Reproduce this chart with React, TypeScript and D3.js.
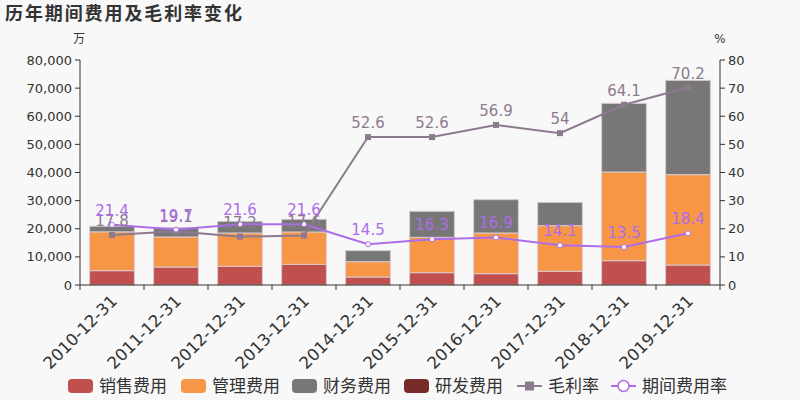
import React from "react";
import * as d3 from "d3";

const categories = ["2010-12-31","2011-12-31","2012-12-31","2013-12-31","2014-12-31","2015-12-31","2016-12-31","2017-12-31","2018-12-31","2019-12-31"];
const salesExp = [5100, 6400, 6640, 7350, 2840, 4380, 4030, 4860, 8650, 7110];
const mgmtExp = [13800, 10700, 11850, 11500, 5460, 12570, 14460, 16240, 31530, 32120];
const finExp = [2000, 3300, 4150, 4500, 3910, 9250, 11850, 8290, 24410, 33540];
const rdExp = [0, 0, 0, 0, 0, 0, 0, 0, 0, 0];
const grossMargin = [17.8, 19.1, 17.2, 17.6, 52.6, 52.6, 56.9, 54, 64.1, 70.2];
const periodRate = [21.4, 19.7, 21.6, 21.6, 14.5, 16.3, 16.9, 14.1, 13.5, 18.4];
const leftTicks = [0, 10000, 20000, 30000, 40000, 50000, 60000, 70000, 80000];
const rightTicks = [0, 10, 20, 30, 40, 50, 60, 70, 80];

const barSeries = [
  { name: "销售费用", values: salesExp, color: "#c0504d" },
  { name: "管理费用", values: mgmtExp, color: "#f79646" },
  { name: "财务费用", values: finExp, color: "#777777" },
  { name: "研发费用", values: rdExp, color: "#772c2a" },
];

const W = 800, H = 400;
const L = 80, R = 720, T = 60, B = 285;
const gmColor = "#8c7b8e";
const prColor = "#ad6de8";
const font = "'DejaVu Sans', 'Noto Sans CJK SC', sans-serif";
const cjk = "'Noto Sans CJK SC', sans-serif";

export default function App() {
  const x = d3.scaleBand<string>().domain(categories).range([L, R]).paddingInner(0.3).paddingOuter(0.15);
  const band = (R - L) / categories.length;
  const yL = d3.scaleLinear().domain([0, 80000]).range([B, T]);
  const yR = d3.scaleLinear().domain([0, 80]).range([B, T]);
  const cx = (c: string) => (x(c) as number) + x.bandwidth() / 2;
  const fmt = d3.format(",");

  const stacks = d3.stack<number>()
    .keys(barSeries.map((_, i) => String(i)))
    .value((idx, key) => barSeries[+key].values[idx])(categories.map((_, i) => i));

  const gmLine = d3.line<number>().x((_, i) => cx(categories[i])).y(v => yR(v));
  const prLine = d3.line<number>().x((_, i) => cx(categories[i])).y(v => yR(v));

  const legendItems = [
    { name: "销售费用", type: "rect", color: barSeries[0].color, x: 68 },
    { name: "管理费用", type: "rect", color: barSeries[1].color, x: 181 },
    { name: "财务费用", type: "rect", color: barSeries[2].color, x: 292 },
    { name: "研发费用", type: "rect", color: barSeries[3].color, x: 404 },
    { name: "毛利率", type: "square", color: gmColor, x: 517 },
    { name: "期间费用率", type: "circle", color: prColor, x: 611 },
  ];

  return (
    <svg width={W} height={H} style={{ display: "block", position: "absolute", left: 0, top: 0, background: "#f8f8f8" }}>
      <rect x={0} y={0} width={W} height={H} fill="#f8f8f8" />
      <text x={5} y={20} fontFamily={cjk} fontSize={18} fontWeight="bold" fill="#333" letterSpacing={1.9}>历年期间费用及毛利率变化</text>
      <text x={79} y={43} fontFamily={cjk} fontSize={12} fill="#333" textAnchor="middle">万</text>
      <text x={720} y={43} fontFamily={font} fontSize={12} fill="#333" textAnchor="middle">%</text>

      {/* bars */}
      {stacks.map((s, si) => (
        <g key={si}>
          {s.map((d, i) => {
            const h = yL(d[0]) - yL(d[1]);
            if (h <= 0) return null;
            return (
              <rect key={i} x={x(categories[i])} y={yL(d[1])} width={x.bandwidth()} height={h}
                fill={barSeries[si].color} stroke="#d9c9cf" strokeWidth={1} />
            );
          })}
        </g>
      ))}

      {/* left axis */}
      <line x1={L} x2={L} y1={T} y2={B} stroke="#333" />
      {leftTicks.map(t => (
        <g key={t}>
          <line x1={L - 5} x2={L} y1={yL(t)} y2={yL(t)} stroke="#333" />
          <text x={L - 8} y={yL(t)} dy="0.35em" textAnchor="end" fontFamily={font} fontSize={13} fill="#333">{fmt(t)}</text>
        </g>
      ))}
      {/* right axis */}
      <line x1={R} x2={R} y1={T} y2={B} stroke="#333" />
      {rightTicks.map(t => (
        <g key={t}>
          <line x1={R} x2={R + 5} y1={yR(t)} y2={yR(t)} stroke="#333" />
          <text x={R + 8} y={yR(t)} dy="0.35em" textAnchor="start" fontFamily={font} fontSize={13} fill="#333">{t}</text>
        </g>
      ))}
      {/* x axis */}
      <line x1={L} x2={R} y1={B} y2={B} stroke="#333" />
      {d3.range(categories.length + 1).map(i => (
        <line key={i} x1={L + i * band} x2={L + i * band} y1={B} y2={B + 5} stroke="#333" />
      ))}
      {categories.map(c => (
        <text key={c} transform={`translate(${cx(c) + 2},${B + 13}) rotate(-45)`} textAnchor="end" dy="0.35em"
          fontFamily={font} fontSize={16.5} fill="#333">{c}</text>
      ))}

      {/* lines */}
      <path d={gmLine(grossMargin) || ""} fill="none" stroke={gmColor} strokeWidth={2} />
      {grossMargin.map((v, i) => (
        <rect key={i} x={cx(categories[i]) - 3} y={yR(v) - 3} width={6} height={6} fill={gmColor} />
      ))}
      <path d={prLine(periodRate) || ""} fill="none" stroke={prColor} strokeWidth={2} />
      {periodRate.map((v, i) => (
        <circle key={i} cx={cx(categories[i])} cy={yR(v)} r={2.5} fill="#fff" stroke={prColor} strokeWidth={1} />
      ))}
      {grossMargin.map((v, i) => (
        <text key={i} x={cx(categories[i])} y={yR(v) - 9} textAnchor="middle" fontFamily={font} fontSize={15} fill={gmColor}>{v}</text>
      ))}
      {periodRate.map((v, i) => (
        <text key={i} x={cx(categories[i])} y={yR(v) - 9} textAnchor="middle" fontFamily={font} fontSize={15} fill={prColor}>{v}</text>
      ))}

      {/* legend */}
      {legendItems.map(it => (
        <g key={it.name}>
          {it.type === "rect" && <rect x={it.x} y={379} width={25} height={14} rx={4} fill={it.color} />}
          {it.type === "square" && (
            <g>
              <line x1={it.x} x2={it.x + 25} y1={386} y2={386} stroke={it.color} strokeWidth={2} />
              <rect x={it.x + 8} y={381.5} width={9} height={9} fill={it.color} />
            </g>
          )}
          {it.type === "circle" && (
            <g>
              <line x1={it.x} x2={it.x + 25} y1={386} y2={386} stroke={it.color} strokeWidth={2} />
              <circle cx={it.x + 12.5} cy={386} r={5.5} fill="#fff" stroke={it.color} strokeWidth={1.5} />
            </g>
          )}
          <text x={it.x + 31} y={386} dy="0.36em" fontFamily={cjk} fontSize={17} fill="#333">{it.name}</text>
        </g>
      ))}
    </svg>
  );
}
